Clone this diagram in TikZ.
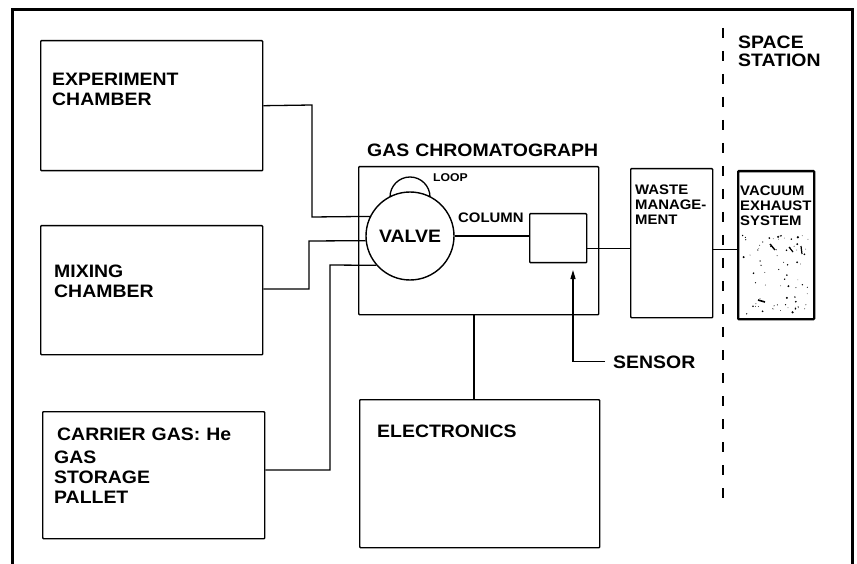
\documentclass[tikz,border=0pt]{standalone}
\usepackage{fontspec}
\newfontfamily\lblfont[FakeStretch=1.08]{Liberation Sans}
\usetikzlibrary{arrows.meta}
\begin{document}
\begin{tikzpicture}[x=1pt,y=-1pt,
  box/.style={draw, line width=1.4pt, inner sep=0pt, anchor=north west, rounded corners=0.8pt},
  wire/.style={line width=1.3pt},
  big/.style={inner sep=0pt, anchor=base west, align=left, text width=300pt,
    font=\lblfont\bfseries\fontsize{18}{20.5}\selectfont},
  small/.style={inner sep=0pt, anchor=base west, align=left, text width=90pt,
    font=\lblfont\bfseries\fontsize{13.8}{15.5}\selectfont},
  tiny/.style={inner sep=0pt, anchor=base west,
    font=\lblfont\bfseries\fontsize{11.3}{12}\selectfont}
]
\useasboundingbox (0,0) rectangle (857,564);
% outer frame (open at bottom)
\draw[line width=3pt] (12,564) -- (12,10) -- (852,10) -- (852,564);
% space station boundary
\draw[line width=1.4pt, dash pattern=on 10pt off 13pt] (723,28) -- (723,507);
\node[big, text width=100pt] (space) at (738,49) {SPACE\\[-2.5pt]STATION};

% boxes
\node[box, minimum width=222pt, minimum height=130pt] (exp) at (40,40) {};
\node[big] (explbl) at (52,86) {EXPERIMENT\\[-0.5pt]CHAMBER};
\node[box, minimum width=222pt, minimum height=129pt] (mix) at (40,225) {};
\node[big] (mixlbl) at (54,277) {MIXING\\CHAMBER};
\node[box, minimum width=222pt, minimum height=127pt] (car) at (42,411) {};
\node[big] (carlbl) at (57,440) {CARRIER GAS: He};
\node[big] (storlbl) at (54,463) {GAS\\[-0.5pt]STORAGE\\[-0.5pt]PALLET};

\node[box, minimum width=240pt, minimum height=148pt] (gc) at (358,166) {};
\node[big] (gclbl) at (367,157) {GAS CHROMATOGRAPH};
\node[draw, circle, line width=1.4pt, minimum size=88pt, inner sep=0pt,
  font=\lblfont\bfseries\fontsize{18}{20}\selectfont] (valve) at (410,236) {VALVE};
\draw[wire] (valve.center) ++(-20pt,39pt) arc[start angle=180, end angle=0, radius=20pt];
\node[tiny] (looplbl) at (433,182) {LOOP};
\node[small] (collbl) at (458,223) {COLUMN};
\node[box, minimum width=57pt, minimum height=49pt] (det) at (529,213) {};

\node[box, minimum width=240pt, minimum height=148pt] (elec) at (359,399) {};
\node[big] (eleclbl) at (377,437) {ELECTRONICS};

\node[box, minimum width=82pt, minimum height=149pt] (waste) at (630,168) {};
\node[small] (wastelbl) at (635,195) {WASTE\\[-0.5pt]MANAGE-\\[-0.5pt]MENT};
\node[box, line width=2.3pt, minimum width=76pt, minimum height=148pt] (vac) at (737,170) {};
\node[small] (vaclbl) at (740,196) {VACUUM\\[-0.5pt]EXHAUST\\[-0.5pt]SYSTEM};

\node[big] (sensor) at (613,368) {SENSOR};

% speckles in the vacuum exhaust box
\pgfmathsetseed{17}
\foreach \i in {1,...,75} {
  \pgfmathsetmacro\px{742+66*rnd}
  \pgfmathsetmacro\py{234+80*rnd}
  \pgfmathsetmacro\pr{0.35+1.1*rnd*rnd}
  \fill (\px,\py) circle[radius=\pr pt];
}
\draw[line width=1.6pt] (758,300) -- (765,302);
\draw[line width=1.4pt] (770,244) -- (775,250);
\draw[line width=1.2pt] (789,247) -- (793,252);
\draw[line width=1.2pt] (801,246) -- (802,254);

% connectors
\coordinate (e1) at (312,105);
\coordinate (e2) at (312,217);
\draw[wire] (exp.east) -- (e1) -- (e2) -- (valve.154.5);
\coordinate (m1) at (309,289);
\coordinate (m2) at (309,241);
\draw[wire] (mix.east |- m1) -- (m1) -- (m2) -- (valve.186.5);
\coordinate (c1) at (330,470);
\coordinate (c2) at (330,265);
\draw[wire] (car.east |- c1) -- (c1) -- (c2) -- (valve.221.3);
\draw[wire] (valve.east) -- (valve.east -| det.west);
\coordinate (d1) at ([yshift=-10.5pt]det.east);
\draw[wire] (d1) -- (d1 -| waste.west);
\coordinate (w1) at ([yshift=-6.5pt]waste.east);
\draw[wire] (w1) -- (w1 -| vac.west);
\coordinate (g1) at (474,314);
\draw[wire] (g1) -- (g1 |- elec.north);
\coordinate (s1) at (573,270);
\draw[wire, -{Triangle[length=9pt, width=5pt]}] ([xshift=-8pt]sensor.west) -| (s1);
\end{tikzpicture}
\end{document}
